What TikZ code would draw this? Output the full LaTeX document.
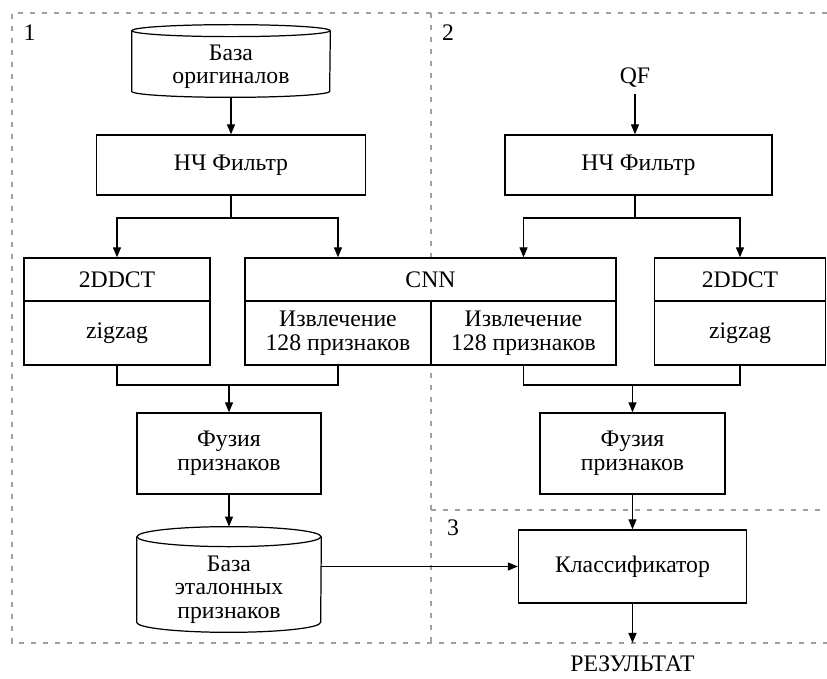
\documentclass[tikz,border=0pt]{standalone}
\usepackage{fontspec}
\setmainfont{Liberation Serif}
\usetikzlibrary{arrows.meta,positioning}

\begin{document}
\begin{tikzpicture}[
  every node/.style={font=\fontsize{13.5}{13.4}\selectfont},
  >={Triangle[length=2mm,width=1.6mm]},
  blok/.style={draw, fill=white, line width=0.75pt, align=center, inner sep=0pt},
  zone/.style={gray!75, line width=0.6pt, dash pattern=on 0.1cm off 0.14cm},
  link/.style={line width=0.7pt}
]

\path[use as bounding box] (0,0) rectangle (16.54,13.58);

% Dashed zones.
\draw[zone] (16.54,13.32) -- (0.24,13.32) -- (0.24,0.72) -- (16.54,0.72);
\draw[zone] (8.62,13.32) -- (8.62,0.72);
\draw[zone] (8.62,3.38) -- (16.54,3.38);

\node (z1) at (0.59,12.92) {1};
\node (z2) at (8.96,12.92) {2};
\node (z3) at (9.06,3.02) {3};

% Zone 1: originals.
\node[align=center, minimum width=3.96cm, minimum height=1.2cm] (orig)
  at (4.62,12.24) {База\\оригиналов};
\draw[link] ([yshift=0.12cm]orig.north) ellipse (1.98 and 0.12);
\draw[link] ([yshift=0.12cm]orig.north west) -- ([yshift=0.12cm]orig.south west)
  arc[start angle=180, end angle=360, x radius=1.98, y radius=0.12]
  -- ([yshift=0.12cm]orig.north east);

\node[blok, minimum width=5.38cm, minimum height=1.2cm] (filt1)
  at (4.62,10.28) {НЧ Фильтр};

\node[blok, minimum width=3.72cm, minimum height=0.86cm] (dct1)
  at (2.34,7.99) {2DDCT};
\node[blok, minimum width=3.72cm, minimum height=1.28cm] (zig1)
  at (2.34,6.92) {zigzag};

% CNN shared by zones 1 and 2.
\node[blok, minimum width=7.42cm, minimum height=0.86cm] (cnn)
  at (8.61,7.99) {CNN};
\node[blok, minimum width=3.72cm, minimum height=1.28cm] (extl)
  at (6.76,6.92) {Извлечение\\128 признаков};
\node[blok, minimum width=3.70cm, minimum height=1.28cm] (extr)
  at (10.47,6.92) {Извлечение\\128 признаков};

\node[blok, minimum width=3.68cm, minimum height=1.62cm] (fus1)
  at (4.58,4.51) {Фузия\\признаков};

\node[align=center, minimum width=3.68cm, minimum height=1.70cm] (base)
  at (4.58,1.79) {База\\эталонных\\признаков};
\draw[link] ([yshift=0.2cm]base.north) ellipse (1.84 and 0.2);
\draw[link] ([yshift=0.2cm]base.north west) -- ([yshift=0.2cm]base.south west)
  arc[start angle=180, end angle=360, x radius=1.84, y radius=0.2]
  -- ([yshift=0.2cm]base.north east);

% Zone 2: query.
\node (qf) at (12.70,12.02) {QF};
\node[blok, minimum width=5.34cm, minimum height=1.2cm] (filt2)
  at (12.77,10.28) {НЧ Фильтр};

\node[blok, minimum width=3.42cm, minimum height=0.86cm] (dct2)
  at (14.80,7.99) {2DDCT};
\node[blok, minimum width=3.42cm, minimum height=1.28cm] (zig2)
  at (14.80,6.92) {zigzag};

\node[blok, minimum width=3.70cm, minimum height=1.62cm] (fus2)
  at (12.65,4.51) {Фузия\\признаков};

% Zone 3: decision.
\node[blok, minimum width=4.56cm, minimum height=1.46cm] (klass)
  at (12.65,2.25) {Классификатор};
\coordinate (out) at (12.65,0.72);
\node[below=0.14cm of out] (result) {РЕЗУЛЬТАТ};

% Connections.
\coordinate (split1) at (4.62,9.22);
\coordinate (split2) at (12.70,9.22);
\coordinate (merge1) at (4.58,5.88);
\coordinate (merge2) at (12.65,5.88);

\draw[link,->] (orig.south) -- (filt1.north);
\draw[link] (filt1.south) -- (split1);
\draw[link,->] (split1) -| (dct1.north);
\draw[link,->] (split1) -| (extl.north |- cnn.north);

\draw[link,->] (qf.south) -- (qf.south |- filt2.north);
\draw[link] (qf.south |- filt2.south) -- (split2);
\draw[link,->] (split2) -| (extr.north |- cnn.north);
\draw[link,->] (split2) -| (dct2.north);

\draw[link] (zig1.south) |- (merge1) -| (extl.south);
\draw[link,->] (merge1) -- (fus1.north);
\draw[link] (extr.south) |- (merge2) -| (zig2.south);
\draw[link,->] (merge2) -- (fus2.north);

\draw[link,->] (fus1.south) -- ([yshift=0.4cm]base.north);
\draw[link,->] (base.east |- klass.west) -- (klass.west);
\draw[link,->] (fus2.south) -- (klass.north);
\draw[link,->] (klass.south) -- (out);

\end{tikzpicture}
\end{document}
